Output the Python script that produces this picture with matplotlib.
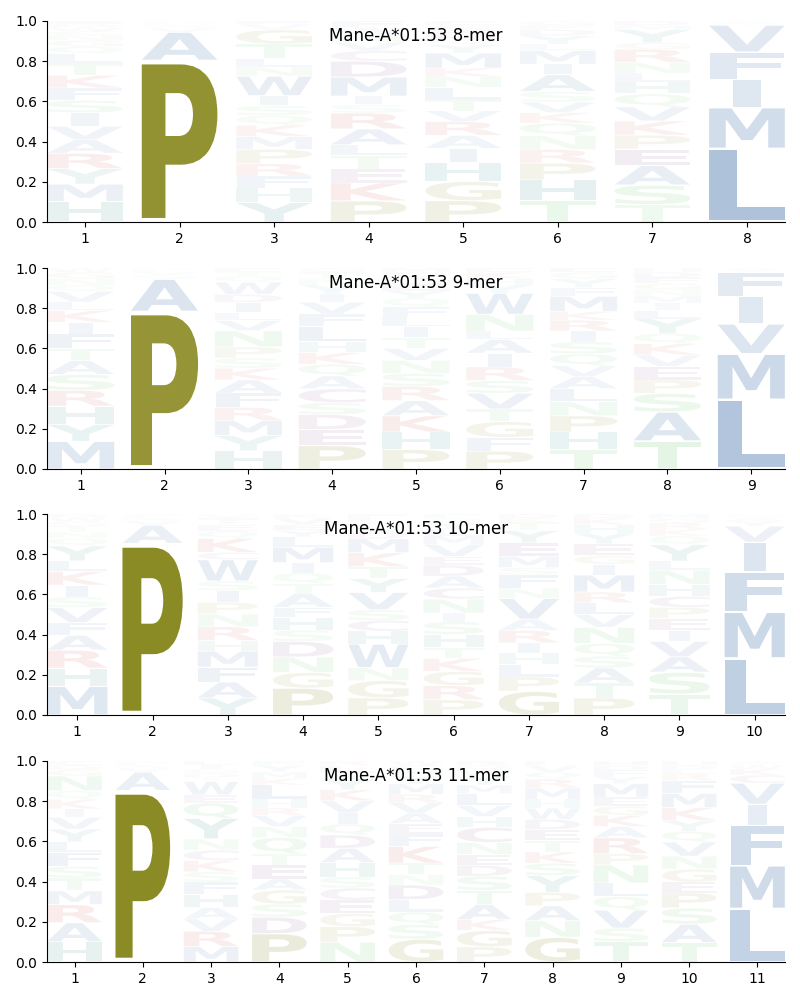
import numpy as np
import matplotlib
matplotlib.use("Agg")
import matplotlib.pyplot as plt
from matplotlib.textpath import TextPath
from matplotlib.font_manager import FontProperties
from matplotlib.patches import PathPatch
from matplotlib.transforms import Affine2D

allele = "Mane-A*01:53"

# letters of every position, listed bottom -> top, with their frequencies
mer8_letters = ["HMYRAVISFKTLQGNCWDE", "PAVSLG", "YHFRPMKQSIWNLTGVE", "PKETLARSIMDCVNWF",
                "PGHIARVTLNKMYQDSE", "THPRNQKVSAIMLYDEG", "TSAEPKVQHLNRGYMD", "LMIFVYA"]
mer8_heights = [
    [.10, .085, .075, .075, .066, .066, .066, .06, .06, .062, .06, .045, .035, .03, .025, .02, .02, .015, .015],
    [.80, .14, .02, .015, .01, .01],
    [.09, .066, .055, .058, .066, .058, .053, .045, .045, .046, .09, .042, .04, .066, .066, .025, .015],
    [.10, .085, .065, .065, .05, .075, .075, .04, .04, .09, .075, .05, .04, .035, .035, .03],
    [.10, .09, .09, .065, .06, .065, .05, .05, .06, .05, .04, .07, .04, .03, .03, .03, .02],
    [.10, .10, .08, .065, .065, .06, .05, .05, .05, .08, .05, .065, .03, .04, .03, .02, .02],
    [.08, .09, .09, .075, .065, .065, .065, .06, .055, .04, .05, .06, .03, .06, .02, .02],
    [.365, .205, .14, .135, .135, .01, .01],
]

mer9_letters = ["MYHRSATFIKLVQNGW", "PASVLG", "HYMRFAKSPNVLIDWQTE", "PEDSCAQKHLFVIYNTG",
                "PHKARSNVTILFQYEGDM", "PFGTVSRIALNWYHKE", "THPNLAVQSIRKMFYGE",
                "TASPEVKQYLIMNGFDH", "LMVIFYA"]
mer9_heights = [
    [.13, .08, .085, .075, .075, .065, .055, .07, .055, .055, .04, .05, .03, .03, .03, .02],
    [.78, .16, .02, .015, .01, .01],
    [.09, .075, .075, .065, .07, .065, .058, .05, .055, .08, .05, .04, .05, .04, .06, .03, .02, .02],
    [.11, .075, .07, .055, .065, .06, .055, .055, .05, .07, .06, .055, .04, .04, .03, .03, .02],
    [.09, .08, .075, .07, .065, .06, .06, .055, .05, .05, .045, .045, .04, .035, .03, .03, .025, .02],
    [.085, .065, .075, .06, .075, .06, .065, .065, .065, .04, .08, .10, .04, .03, .03, .02],
    [.09, .08, .075, .065, .06, .055, .05, .055, .055, .05, .05, .04, .07, .04, .04, .03, .02],
    [.135, .14, .09, .065, .065, .055, .055, .05, .07, .04, .035, .035, .03, .03, .03, .025, .02],
    [.345, .228, .149, .138, .12, .01, .01],
]

mer10_letters = ["MHRAFVSIKLYQNTGWD", "PAVSLG", "YAFMHRNPISWCKQETV", "PGNDSHFATQIMLYEVK",
                 "PGNWHCSVYTKMDQALE", "PRGKTHSINCADEVMLYQF", "GPLHIRAVNFSMEYTKD",
                 "PTASQNVLRMIGEYHKD", "TSAVIEPCHNLYQKRGM", "LMFIVYAWC"]
mer10_heights = [
    [.135, .085, .085, .07, .06, .07, .05, .055, .065, .05, .07, .035, .03, .03, .02, .02, .015],
    [.845, .09, .02, .015, .01, .01],
    [.08, .075, .07, .075, .05, .065, .06, .055, .055, .045, .10, .035, .065, .035, .03, .03, .02],
    [.13, .075, .075, .075, .055, .06, .05, .065, .05, .05, .05, .075, .05, .03, .03, .03, .02],
    [.08, .08, .06, .11, .06, .05, .05, .08, .065, .055, .065, .065, .03, .03, .02, .02, .015],
    [.07, .065, .065, .06, .05, .06, .058, .04, .065, .05, .055, .05, .04, .055, .04, .03, .03, .02, .02],
    [.115, .07, .06, .055, .05, .06, .055, .10, .05, .065, .035, .055, .065, .06, .04, .02, .02],
    [.08, .07, .07, .055, .06, .075, .06, .055, .05, .08, .05, .04, .055, .05, .04, .03, .02],
    [.095, .10, .07, .07, .05, .055, .05, .05, .055, .065, .04, .075, .04, .03, .03, .02, .02],
    [.282, .231, .199, .148, .08, .025, .015, .01, .01],
]

mer11_letters = ["HARMTSFLYVIKQNGDE", "PAVSLG", "MRVAHFSKCNYQEWTDGIL", "PDSGAETQNVRHLKMYF",
                 "NPGECSHADQIVKYTLR", "GSQLDNTKFEAVRMYHCW", "PGKATSDENCHVLMYWQR",
                 "GNAPYSKTEDWHMRQVL", "TSVQLNPRAKGEMYFDH", "TASPEGNVQYKMFRLDH", "LMFIVCKWYA"]
mer11_heights = [
    [.095, .09, .085, .065, .06, .055, .065, .05, .06, .055, .04, .045, .04, .07, .03, .02, .02],
    [.845, .09, .02, .015, .01, .01],
    [.075, .075, .06, .055, .065, .06, .05, .055, .05, .055, .10, .075, .04, .065, .02, .02, .02, .02, .02],
    [.13, .075, .06, .065, .05, .065, .05, .075, .05, .05, .035, .04, .065, .03, .03, .03, .02],
    [.09, .07, .06, .06, .055, .05, .065, .065, .06, .05, .05, .055, .05, .05, .03, .03, .02],
    [.11, .07, .06, .06, .07, .05, .055, .08, .06, .05, .05, .05, .04, .05, .04, .03, .02, .02],
    [.07, .075, .05, .07, .065, .065, .05, .05, .055, .07, .05, .05, .055, .04, .04, .03, .02, .02],
    [.11, .075, .065, .06, .075, .055, .05, .05, .05, .045, .05, .04, .05, .04, .03, .03, .02],
    [.09, .06, .08, .06, .06, .08, .05, .07, .05, .05, .04, .04, .06, .03, .03, .02, .02],
    [.09, .085, .075, .07, .05, .06, .06, .065, .05, .05, .06, .065, .06, .03, .02, .02, .02],
    [.265, .215, .20, .105, .105, .04, .03, .02, .01, .01],
]

# amino acid colour groups
aa_colors = {}
for group, rgb in [("DEC", (.42, .16, .42)), ("PG", (.47, .47, 0.0)),
                   ("MIWALFV", (.13, .35, .61)), ("NTSQ", (.25, .73, .28)),
                   ("RK", (.74, .18, .12)), ("HY", (.09, .47, .46))]:
    for a in group:
        aa_colors[a] = rgb

font = FontProperties(family="DejaVu Sans", weight="bold")
glyphs = {}
for c in "ACDEFGHIKLMNPQRSTVWY":
    p = TextPath((0, 0), c, size=1, prop=font)
    glyphs[c] = (p, p.get_extents())
ref_w = glyphs["L"][1].width


def draw_logo(ax, letters, heights, title):
    width = 0.8
    for i, (seq, hs) in enumerate(zip(letters, heights)):
        x = i + 1
        hs = np.array(hs) / np.sum(hs)
        floor = 0.0
        for c, h in zip(seq, hs):
            path, ext = glyphs[c]
            w = width * min(1.0, ext.width / ref_w)
            pad = 0.025 * h
            tr = (Affine2D().translate(-ext.x0, -ext.y0)
                  .scale(w / ext.width, (h - 2 * pad) / ext.height)
                  .translate(x - w / 2, floor + pad))
            ax.add_patch(PathPatch(tr.transform_path(path), facecolor=aa_colors[c],
                                   edgecolor="none", alpha=min(1.0, h)))
            floor += h
    n = len(letters)
    ax.set_xlim(0.6, n + 0.4)
    ax.set_ylim(0, 1)
    ax.set_xticks(range(1, n + 1))
    ax.set_yticks(np.arange(0, 1.01, 0.2))
    ax.spines["top"].set_visible(False)
    ax.spines["right"].set_visible(False)
    ax.text(0.5, 0.925, title, transform=ax.transAxes, ha="center", va="center",
            fontsize=12, zorder=10)


fig = plt.figure(figsize=(8, 10), dpi=100)
panels = [(mer8_letters, mer8_heights, 8, 0.778),
          (mer9_letters, mer9_heights, 9, 0.531),
          (mer10_letters, mer10_heights, 10, 0.285),
          (mer11_letters, mer11_heights, 11, 0.038)]
for letters, heights, k, bottom in panels:
    ax = fig.add_axes([0.059, bottom, 0.922, 0.201])
    draw_logo(ax, letters, heights, f"{allele} {k}-mer")

fig.savefig("out.png", dpi=100)
